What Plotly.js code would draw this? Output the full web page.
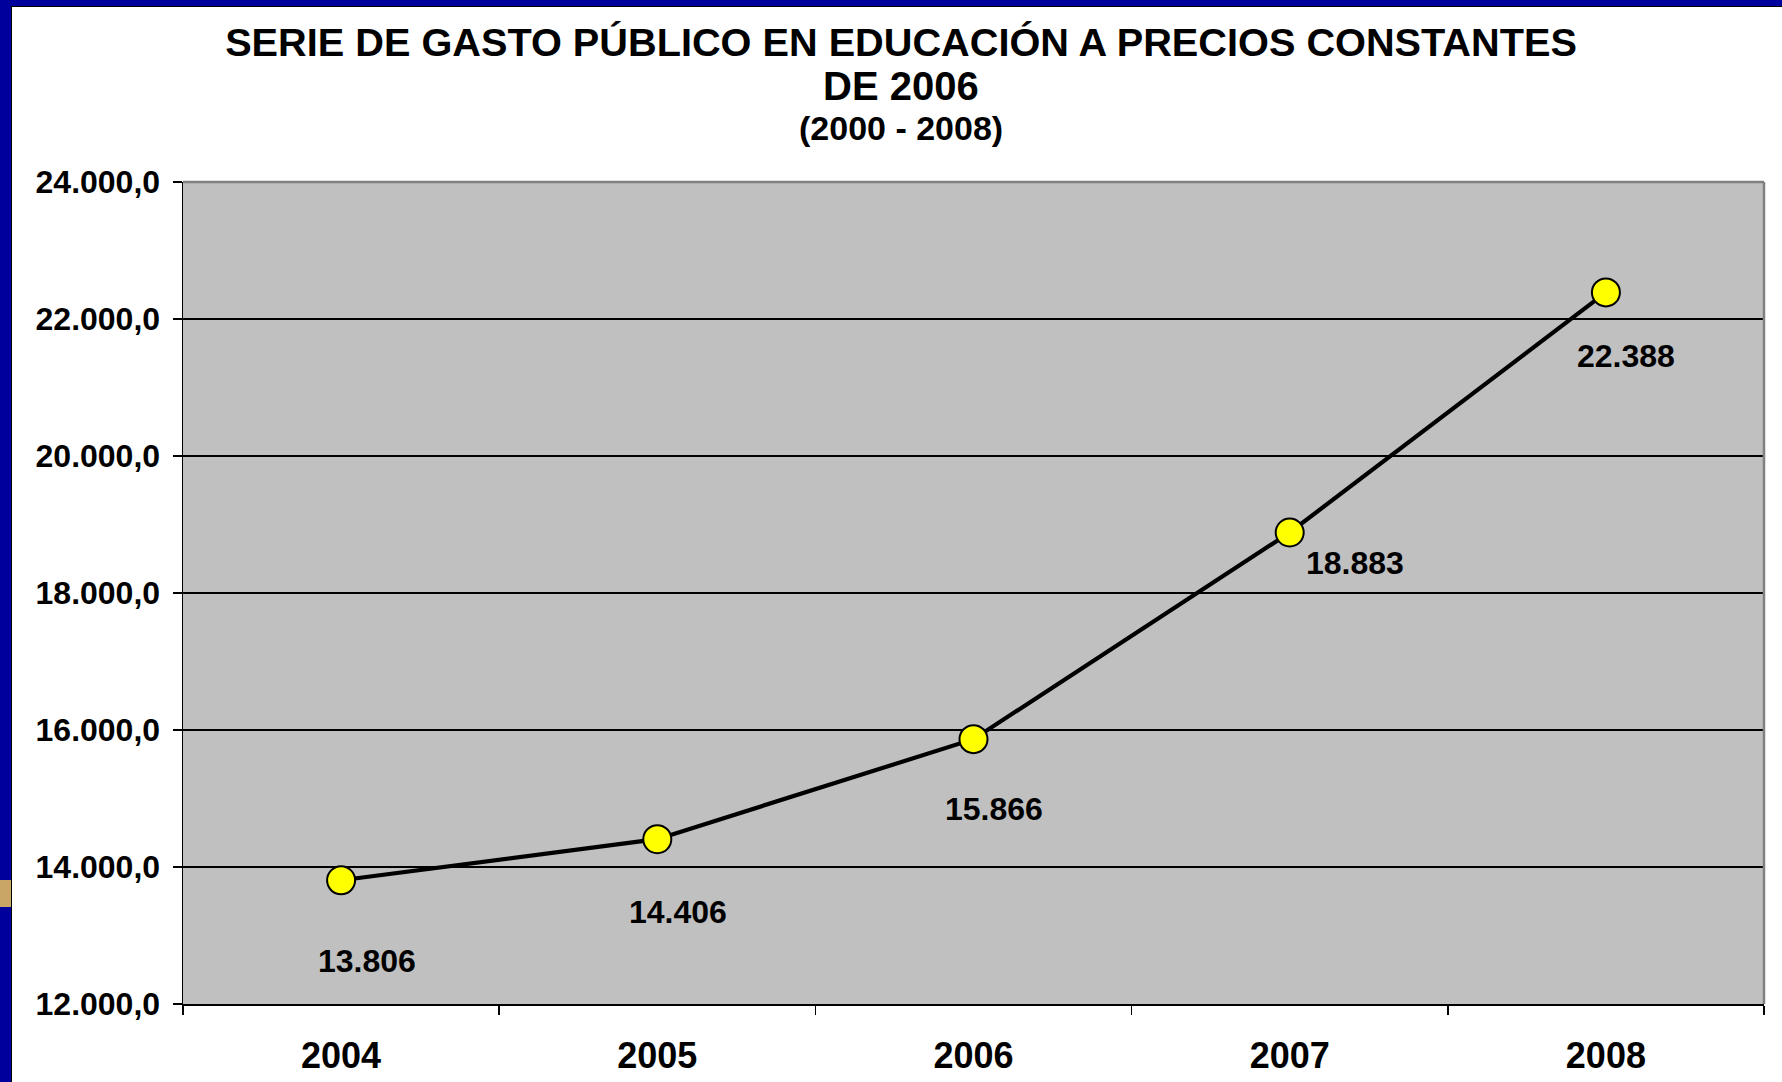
<!DOCTYPE html>
<html>
<head>
<meta charset="utf-8">
<script src="https://cdn.plot.ly/plotly-3.0.1.min.js"></script>
<style>
  html, body { margin: 0; padding: 0; width: 1782px; height: 1082px; overflow: hidden; background: #00009C; }
  #frame { position: absolute; left: 11px; top: 6px; width: 1771px; height: 1076px; background: #000; }
  #chart { position: absolute; left: 12px; top: 7px; width: 1770px; height: 1075px; background: #fff; }
  #tab { position: absolute; left: 0; top: 880px; width: 11px; height: 27px; background: #C9A666; }
</style>
</head>
<body>
<div id="frame"></div>
<div id="tab"></div>
<div id="chart"></div>
<script>
// ---- data ----
const years = ['2004', '2005', '2006', '2007', '2008'];
const gasto = [13806, 14406, 15866, 18883, 22388];
const valueLabels = ['13.806', '14.406', '15.866', '18.883', '22.388'];
const yTickVals = [12000, 14000, 16000, 18000, 20000, 22000, 24000];
const yTickText = ['12.000,0', '14.000,0', '16.000,0', '18.000,0', '20.000,0', '22.000,0', '24.000,0'];
const titleLine1 = 'SERIE DE GASTO PÚBLICO EN EDUCACIÓN A PRECIOS CONSTANTES';
const titleLine2 = 'DE 2006';
const subtitle = '(2000 - 2008)';

// ---- label placement (pixels, relative to each point) ----
const labelShiftX = [26, 21, 20, 65, 20];
const labelShiftY = [-81, -73, -70, -30, -64];

const FONT = '"Liberation Sans", Arial, sans-serif';

const trace = {
  x: years,
  y: gasto,
  type: 'scatter',
  mode: 'lines+markers',
  line: { color: '#000000', width: 4.2 },
  marker: { color: '#FFFF00', size: 28, line: { color: '#000000', width: 2 } },
  hoverinfo: 'skip',
  showlegend: false
};

const annotations = years.map((yr, i) => ({
  x: i, y: gasto[i], xref: 'x', yref: 'y',
  text: valueLabels[i], showarrow: false,
  xanchor: 'center', yanchor: 'middle',
  xshift: labelShiftX[i], yshift: labelShiftY[i],
  font: { family: FONT, size: 32, color: '#000', weight: 'bold' }
}));

annotations.push({
  xref: 'paper', yref: 'paper', x: 0.4541, y: 1 + 96 / 822,
  xanchor: 'center', yanchor: 'middle', showarrow: false,
  text: titleLine2,
  font: { family: FONT, size: 40, color: '#000', weight: 'bold' }
});
annotations.push({
  xref: 'paper', yref: 'paper', x: 0.4541, y: 1 + 54 / 822,
  xanchor: 'center', yanchor: 'middle', showarrow: false,
  text: subtitle,
  font: { family: FONT, size: 34, color: '#000', weight: 'bold' }
});

const layout = {
  width: 1770, height: 1075,
  margin: { l: 171, r: 18, t: 175, b: 78 },
  paper_bgcolor: '#FFFFFF',
  plot_bgcolor: '#C0C0C0',
  font: { family: FONT, color: '#000' },
  title: {
    text: titleLine1,
    font: { family: FONT, size: 39.7, color: '#000', weight: 'bold' },
    xref: 'container', x: 889 / 1770, xanchor: 'center',
    yref: 'container', y: 1 - 35 / 1075, yanchor: 'middle'
  },
  xaxis: {
    type: 'category',
    range: [-0.5, 4.5],
    tickson: 'boundaries',
    ticks: 'outside', ticklen: 9, tickwidth: 1.5, tickcolor: '#000',
    showline: true, linecolor: '#000', linewidth: 1.5,
    showgrid: false, zeroline: false,
    tickfont: { family: FONT, size: 36, color: '#000', weight: 'bold' },
    ticklabelstandoff: 19,
    fixedrange: true
  },
  yaxis: {
    range: [12000, 24000],
    tickmode: 'array', tickvals: yTickVals, ticktext: yTickText,
    ticks: 'outside', ticklen: 9, tickwidth: 1.5, tickcolor: '#000',
    showline: true, linecolor: '#000', linewidth: 1.5,
    showgrid: true, gridcolor: '#000', gridwidth: 2,
    zeroline: false,
    tickfont: { family: FONT, size: 32, color: '#000', weight: 'bold' },
    ticklabelstandoff: 6,
    fixedrange: true
  },
  shapes: [
    { type: 'line', xref: 'paper', yref: 'paper', x0: 0, x1: 1, y0: 1, y1: 1, line: { color: '#808080', width: 2.5 }, layer: 'above' },
    { type: 'line', xref: 'paper', yref: 'paper', x0: 1, x1: 1, y0: 0, y1: 1, line: { color: '#808080', width: 2.5 }, layer: 'above' }
  ],
  annotations: annotations
};

Plotly.newPlot('chart', [trace], layout, { displayModeBar: false, staticPlot: true });
</script>
</body>
</html>
